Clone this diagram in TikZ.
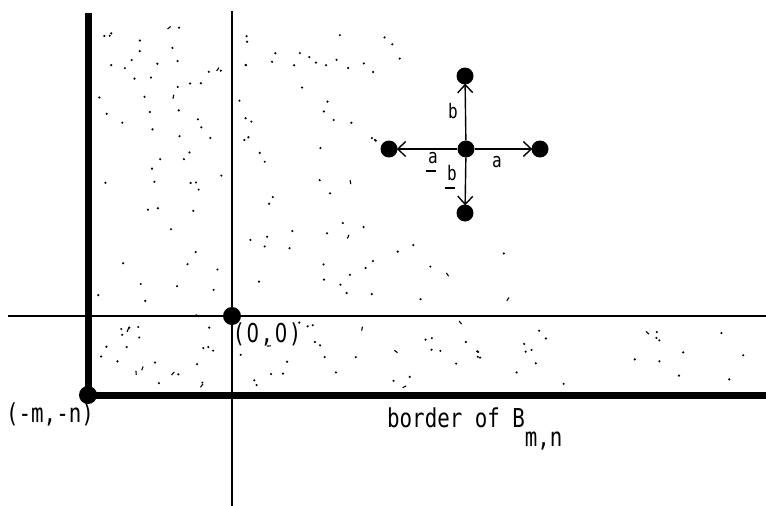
\documentclass[tikz,border=0pt]{standalone}
\usepackage{fontspec}
\usetikzlibrary{arrows.meta}
\newfontfamily\plotfont[FakeStretch=0.8]{DejaVu Sans Mono}
\newfontfamily\zerofont[FakeStretch=0.757]{DejaVu Sans}
\newcommand\pz{\makebox[0.602em]{\zerofont 0}}
\newcommand\ubar[1]{\rlap{\hspace{-2.5pt}\rule[-9pt]{10pt}{1.8pt}}#1}
\tikzset{
  bigdot/.style={circle,fill=black,inner sep=0pt,minimum size=18pt},
  cdot/.style={circle,fill=black,inner sep=0pt,minimum size=17pt},
  thinline/.style={line width=1.8pt},
  thickline/.style={line width=7pt},
  crossarrow/.style={line width=1.4pt,-{Straight Barb[length=8pt,width=15pt,line width=1.4pt]},shorten >=-1pt},
  biglabel/.style={font=\plotfont\fontsize{26}{28}\selectfont,inner sep=0pt},
  smalllabel/.style={font=\plotfont\fontsize{20}{22}\selectfont,inner sep=0pt},
  speck/.style={fill=black}
}
\begin{document}
\begin{tikzpicture}[x=1pt,y=-1pt]
\useasboundingbox (0,0) rectangle (766,506);
% stipple
\pgfmathsetseed{7}
\foreach \i in {1,...,80}{
  \pgfmathsetmacro\px{97+128*rnd}
  \pgfmathsetmacro\py{22+366*rnd}
  \pgfmathsetmacro\sel{rnd}
  \ifdim\sel pt<0.08pt
    \pgfmathsetmacro\ang{360*rnd}
    \draw[line width=1.1pt] (\px,\py) -- ++(\ang:4pt);
  \else
    \fill[speck] (\px,\py) circle (1.2pt);
  \fi
}
\foreach \i in {1,...,75}{
  \pgfmathsetmacro\py{22+285*rnd}
  \pgfmathsetmacro\px{237+(160+0.55*(\py-20))*(rnd^1.3)}
  \pgfmathtruncatemacro\skp{and(and(\px>378,\px<552),and(\py>60,\py<226))}
  \ifnum\skp=0
    \pgfmathsetmacro\sel{rnd}
    \ifdim\sel pt<0.08pt
      \pgfmathsetmacro\ang{360*rnd}
      \draw[line width=1.1pt] (\px,\py) -- ++(\ang:4pt);
    \else
      \fill[speck] (\px,\py) circle (1.2pt);
    \fi
  \fi
}
\foreach \i in {1,...,50}{
  \pgfmathsetmacro\px{237+512*rnd}
  \pgfmathsetmacro\py{322+66*rnd}
  \pgfmathsetmacro\sel{rnd}
  \ifdim\sel pt<0.08pt
    \pgfmathsetmacro\ang{360*rnd}
    \draw[line width=1.1pt] (\px,\py) -- ++(\ang:4pt);
  \else
    \fill[speck] (\px,\py) circle (1.2pt);
  \fi
}
% axes
\coordinate (vt) at (232,11);
\coordinate (vb) at (232,506);
\coordinate (hl) at (8,316);
\coordinate (hr) at (766,316);
\coordinate (bt) at (88,13);
\coordinate (br) at (766,395);
\draw[thinline] (vt) -- (vb);
\draw[thinline] (hl) -- (hr);
\draw[thickline] (bt) -- (88,395) -- (br);
\node[bigdot] (o) at (232,316) {};
\node[bigdot] (mn) at (88,395) {};
\node[biglabel] (olab) at (267,334) {(\pz,\pz)};
\node[biglabel] (mnlab) at (50,414) {(-m,-n)};
\node[biglabel,anchor=base west] (border) at (387,427) {border of B\raisebox{-19pt}{m,n}};
% generators
\node[cdot] (c) at (466,149) {};
\node[cdot] (n) at (465,76) {};
\node[cdot] (s) at (465,213) {};
\node[cdot] (w) at (389,149) {};
\node[cdot] (e) at (540,149) {};
\draw[crossarrow] (c) -- (n);
\draw[crossarrow] (c) -- (s);
\draw[crossarrow] (c) -- (w);
\draw[crossarrow] (c) -- (e);
\node[smalllabel] (lb) at (453,111) {b};
\node[smalllabel] (la) at (497,162) {a};
\node[smalllabel] (lai) at (433,162) {\ubar{a}};
\node[smalllabel] (lbi) at (452,177) {\ubar{b}};
\end{tikzpicture}
\end{document}
